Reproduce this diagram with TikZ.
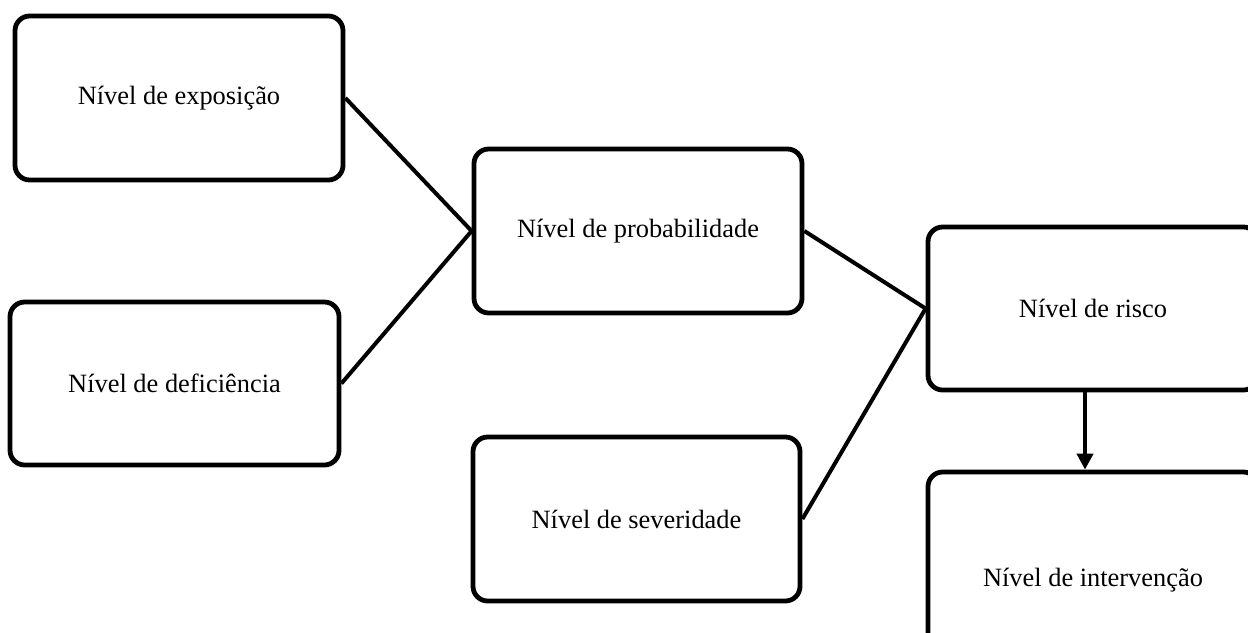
\documentclass[tikz,border=0pt]{standalone}
\usepackage{fontspec}
\setmainfont{Liberation Serif}
\usetikzlibrary{arrows.meta}
\begin{document}
\begin{tikzpicture}[x=0.75pt,y=-0.75pt,
  box/.style={draw=black,line width=3.6pt,rounded corners=11pt,fill=white,
    inner sep=0pt,font=\fontsize{19.8pt}{24pt}\selectfont},
  link/.style={draw=black,line width=3pt},
  arr/.style={draw=black,line width=3pt,-{Triangle[length=12pt,width=12pt]}}]
\useasboundingbox (0,0) rectangle (1248,632);
\node[box,minimum width=328*0.75pt,minimum height=164*0.75pt] (e) at (179,98) {Nível de exposição};
\node[box,minimum width=329*0.75pt,minimum height=163*0.75pt] (d) at (174.5,383.5) {Nível de deficiência};
\node[box,minimum width=328*0.75pt,minimum height=164*0.75pt] (p) at (638,231) {Nível de probabilidade};
\node[box,minimum width=327*0.75pt,minimum height=164*0.75pt] (s) at (636.5,519) {Nível de severidade};
\node[box,minimum width=330*0.75pt,minimum height=163*0.75pt] (r) at (1093,308.5) {Nível de risco};
\node[box,minimum width=330*0.75pt,minimum height=216*0.75pt] (i) at (1093,580) {Nível de intervenção};
\draw[link] (e.east) -- (p.west);
\draw[link] (d.east) -- (p.west);
\draw[link] (p.east) -- (r.west);
\draw[link] (s.east) -- (r.west);
\draw[arr] ([xshift=-6pt]r.south) -- ([xshift=-6pt]i.north);
\end{tikzpicture}
\end{document}
